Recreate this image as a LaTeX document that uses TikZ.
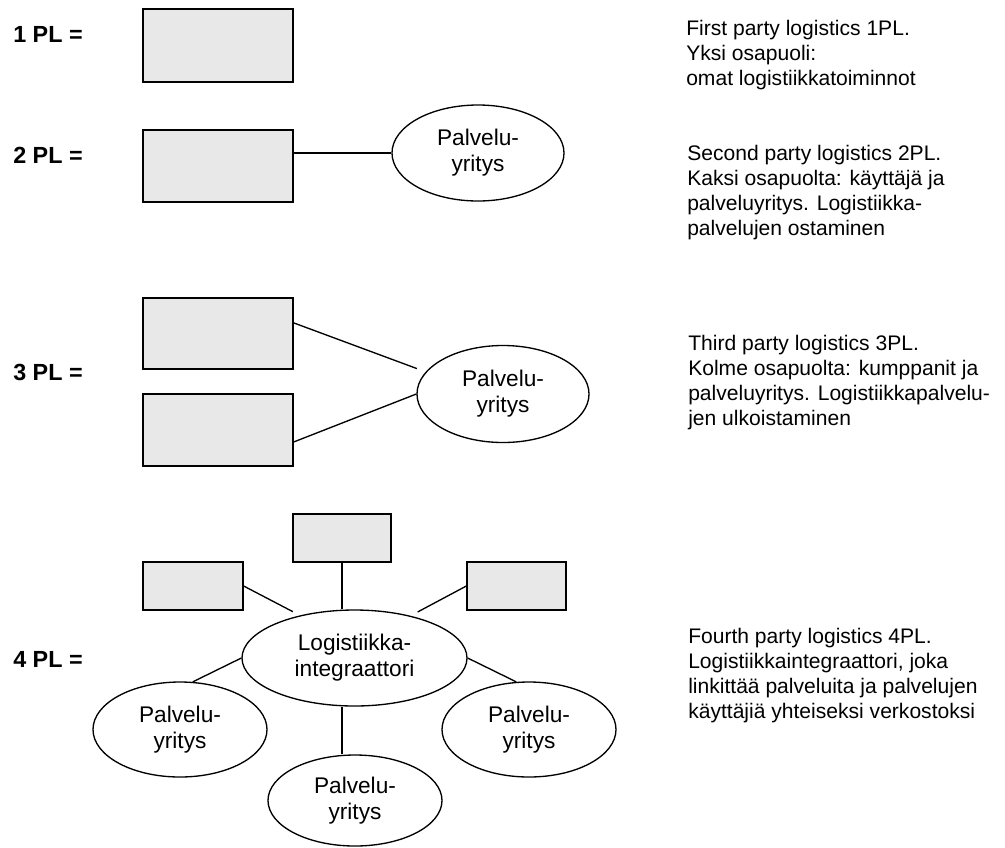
\documentclass[tikz,border=0pt]{standalone}
\usepackage{fontspec}
\setmainfont{Liberation Sans}
\usetikzlibrary{shapes.geometric}
\definecolor{boxgray}{HTML}{E8E8E8}

\tikzset{
  party/.style={draw, line width=1pt, fill=boxgray, inner sep=0pt},
  firm/.style={draw, ellipse, line width=1pt, fill=white, inner sep=0pt,
    align=center, font=\fontsize{17}{19.5}\selectfont},
  level/.style={anchor=base west, inner sep=0pt,
    font=\bfseries\fontsize{17.5}{20}\selectfont},
  note/.style={anchor=base west, inner sep=0pt,
    font=\fontsize{15.8}{18.75}\selectfont},
  link/.style={line width=1pt},
}

\begin{document}
\begin{tikzpicture}[x=0.75pt, y=-0.75pt]
\useasboundingbox (0,0) rectangle (1005,847);

% level labels
\node[level] (l1) at (13,42)  {1 PL =};
\node[level] (l2) at (13,163) {2 PL =};
\node[level] (l3) at (13,380) {3 PL =};
\node[level] (l4) at (13,667) {4 PL =};

% 1PL: own logistics
\node[party, minimum width=112.5pt, minimum height=54.75pt] (b1) at (218,45.5) {};

% 2PL: user and service company
\node[party, minimum width=112.5pt, minimum height=54pt] (b2) at (218,166) {};
\node[firm, minimum width=129pt, minimum height=72pt] (e2) at (478,153) {Palvelu-\\yritys};
\draw[link] (b2.east |- e2.west) -- (e2.west);

% 3PL: two partners and a service company
\node[party, minimum width=112.5pt, minimum height=53.25pt] (b3a) at (218,333.5) {};
\node[party, minimum width=112.5pt, minimum height=54pt] (b3b) at (218,430) {};
\node[firm, minimum width=129pt, minimum height=72.75pt] (e3) at (503,394) {Palvelu-\\yritys};
\draw[link, shorten >=7pt] (b3a.8.7) -- (e3.164.4);
\draw[link] (b3b.-9.1) -- (e3.west);

% 4PL: integrator network
\node[party, minimum width=73.5pt, minimum height=36pt] (b4top) at (342,538) {};
\node[party, minimum width=75pt, minimum height=36pt] (b4left) at (193,586) {};
\node[party, minimum width=74.25pt, minimum height=36pt] (b4right) at (516.5,586) {};
\node[firm, minimum width=168.75pt, minimum height=72pt] (e4c) at (354.5,658) {Logistiikka-\\integraattori};
\node[firm, minimum width=130.5pt, minimum height=71.25pt] (e4l) at (180,729.5) {Palvelu-\\yritys};
\node[firm, minimum width=130.5pt, minimum height=71.25pt] (e4r) at (529,729.5) {Palvelu-\\yritys};
\node[firm, minimum width=130.5pt, minimum height=68.25pt] (e4b) at (355,800.5) {Palvelu-\\yritys};

\draw[link] (b4top.south) -- (e4c.north -| b4top.south);
\draw[link, shorten >=6pt] (b4left.east) -- (e4c.142.2);
\draw[link, shorten >=6pt] (b4right.west) -- (e4c.37.8);
\draw[link] (e4c.west) -- (e4l.75);
\draw[link] (e4c.east) -- (e4r.105);
\draw[link] (e4c.south -| b4top.south) -- (e4b.north -| b4top.south);

% descriptions
\node[note] (n1) at (686,35) {\begin{tabular}[t]{@{}l@{}}
First party logistics 1PL.\\
Yksi osapuoli:\\
omat logistiikkatoiminnot
\end{tabular}};
\node[note] (n2) at (687,160) {\begin{tabular}[t]{@{}l@{}}
Second party logistics 2PL.\\
Kaksi osapuolta: käyttäjä ja\\
palveluyritys. Logistiikka-\\
palvelujen ostaminen
\end{tabular}};
\node[note] (n3) at (688,350) {\begin{tabular}[t]{@{}l@{}}
Third party logistics 3PL.\\
Kolme osapuolta: kumppanit ja\\
palveluyritys. Logistiikkapalvelu-\\
jen ulkoistaminen
\end{tabular}};
\node[note] (n4) at (688,643) {\begin{tabular}[t]{@{}l@{}}
Fourth party logistics 4PL.\\
Logistiikkaintegraattori, joka\\
linkittää palveluita ja palvelujen\\
käyttäjiä yhteiseksi verkostoksi
\end{tabular}};
\end{tikzpicture}
\end{document}
